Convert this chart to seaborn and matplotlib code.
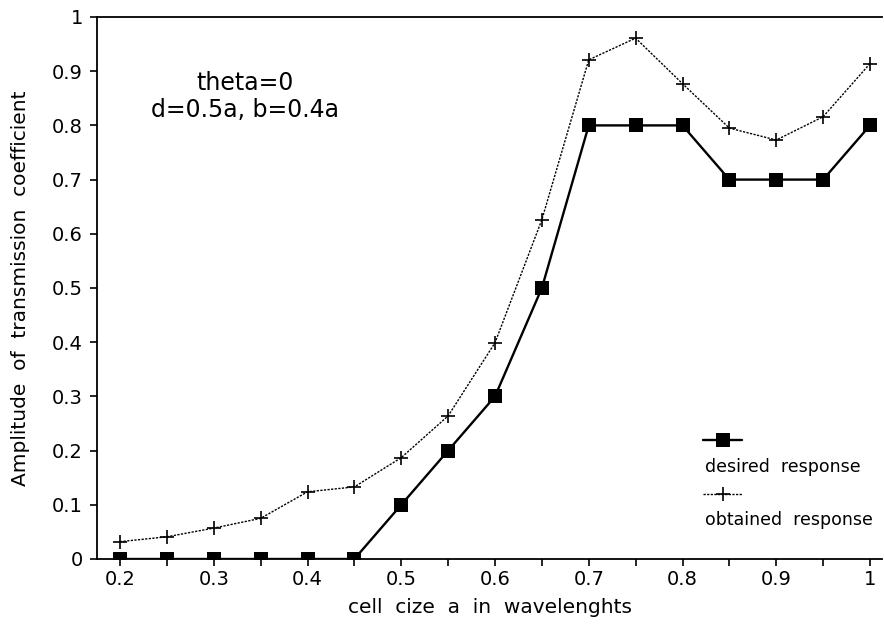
import numpy as np
import pandas as pd
import matplotlib
matplotlib.use("Agg")
import matplotlib.pyplot as plt
import seaborn as sns
from matplotlib.ticker import MultipleLocator, FuncFormatter

cell_size = [0.2, 0.25, 0.3, 0.35, 0.4, 0.45, 0.5, 0.55, 0.6, 0.65, 0.7, 0.75, 0.8, 0.85, 0.9, 0.95, 1.0]
desired = [0, 0, 0, 0, 0, 0, 0.1, 0.2, 0.3, 0.5, 0.8, 0.8, 0.8, 0.7, 0.7, 0.7, 0.8]
obtained = [0.032, 0.041, 0.057, 0.075, 0.124, 0.133, 0.187, 0.264, 0.399, 0.626,
            0.921, 0.961, 0.877, 0.795, 0.773, 0.816, 0.914]
series_labels = ["desired  response", "obtained  response"]
x_label = "cell  cize  a  in  wavelenghts"
y_label = "Amplitude  of  transmission  coefficient"
note_lines = ["theta=0", "d=0.5a, b=0.4a"]

sns.set_theme(style="white")
plt.rcParams['font.family'] = ['DejaVu Sans']

fig = plt.figure(figsize=(8.84, 6.25), dpi=100)
ax = fig.add_axes([97/884, 1-559/625, 785/884, 542/625])

df_d = pd.DataFrame({"x": cell_size, "y": desired})
df_o = pd.DataFrame({"x": cell_size, "y": obtained})

sns.lineplot(data=df_o, x="x", y="y", ax=ax, color="black", lw=1.0,
             linestyle=(0, (1.6, 1.0)), marker="+", markersize=10,
             markeredgewidth=1.2, markeredgecolor="black")
sns.lineplot(data=df_d, x="x", y="y", ax=ax, color="black", lw=1.7,
             marker="s", markersize=10.5, markeredgewidth=0,
             markerfacecolor="black")

ax.set_xlim(0.2 - 23/937.5, 1.0 + 12/937.5)
ax.set_ylim(0, 1)

ax.xaxis.set_major_locator(MultipleLocator(0.1))
ax.xaxis.set_minor_locator(MultipleLocator(0.05))
ax.yaxis.set_major_locator(MultipleLocator(0.1))
fmt = FuncFormatter(lambda v, p: f"{round(v, 2):g}")
ax.xaxis.set_major_formatter(fmt)
ax.yaxis.set_major_formatter(fmt)
ax.tick_params(axis="both", which="both", direction="out", length=5, width=1.2,
               color="black", labelsize=14, labelcolor="black")
ax.tick_params(axis="x", which="both", bottom=True, pad=3)
ax.tick_params(axis="y", which="both", left=True, pad=5)

for s in ["left", "bottom", "top"]:
    ax.spines[s].set_visible(True)
    ax.spines[s].set_color("black")
    ax.spines[s].set_linewidth(1.3)
ax.spines["right"].set_visible(False)

ax.set_xlabel(x_label, fontsize=14.5, color="black")
ax.set_ylabel(y_label, fontsize=14.5, color="black")
ax.xaxis.set_label_coords(0.5, (559-598)/542)
ax.yaxis.set_label_coords((30-97)/785, 0.5)

ax.text((245-97)/785, (559-90)/542, note_lines[0], transform=ax.transAxes,
        ha="center", va="baseline", fontsize=17, color="black")
ax.text((245-97)/785, (559-117)/542, note_lines[1], transform=ax.transAxes,
        ha="center", va="baseline", fontsize=17, color="black")

# legend (handle drawn above its label)
hx0, hx1 = (703-97)/785, (742-97)/785
ax.plot([hx0, hx1], [(559-440)/542]*2, transform=ax.transAxes, color="black", lw=1.7)
ax.plot([(hx0+hx1)/2], [(559-440)/542], transform=ax.transAxes, color="black",
        marker="s", markersize=10.5, markeredgewidth=0)
ax.plot([hx0, hx1], [(559-494)/542]*2, transform=ax.transAxes, color="black",
        lw=1.0, linestyle=(0, (1.6, 1.0)))
ax.plot([(hx0+hx1)/2], [(559-494)/542], transform=ax.transAxes, color="black",
        marker="+", markersize=10, markeredgewidth=1.2)
ax.text((705-97)/785, (559-472)/542, series_labels[0], transform=ax.transAxes,
        ha="left", va="baseline", fontsize=12.5, color="black")
ax.text((705-97)/785, (559-525)/542, series_labels[1], transform=ax.transAxes,
        ha="left", va="baseline", fontsize=12.5, color="black")

fig.savefig("out.png", dpi=100)
